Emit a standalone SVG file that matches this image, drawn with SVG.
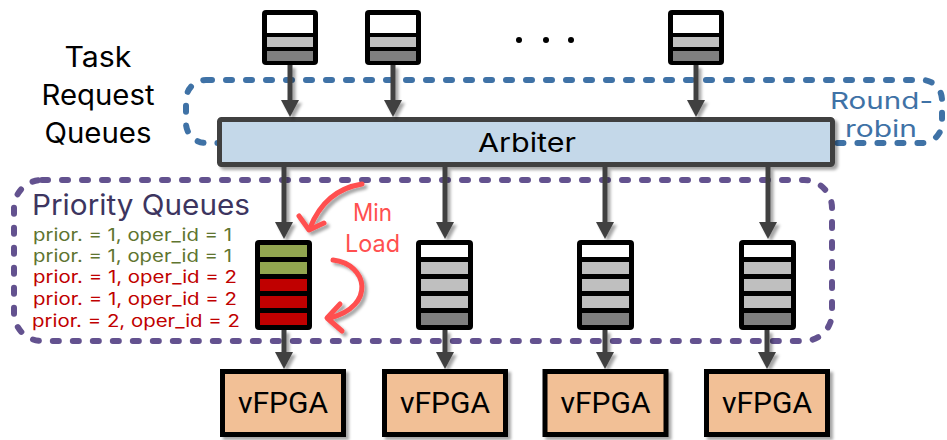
<svg xmlns="http://www.w3.org/2000/svg" width="947" height="440" viewBox="0 0 947 440">
<defs>
<filter id="sh" x="-20%" y="-20%" width="160%" height="160%">
<feDropShadow dx="3" dy="3" stdDeviation="1.5" flood-color="#000" flood-opacity="0.35"/>
</filter>
<style>
.t{font-family:Inter,"DejaVu Sans","Liberation Sans",sans-serif;font-weight:400}
.conn line{stroke:#404040;stroke-width:5}
.conn polygon{fill:#404040}
.qb{fill:#000}
.w{fill:#fff}
.lg{fill:#bfbfbf}
.dg{fill:#7f7f7f}
.gr{fill:#92a650}
.rd{fill:#c00000}
.fp rect{fill:#f2c096;stroke:#000;stroke-width:5}
.fp text{font-family:Roboto,"Liberation Sans",sans-serif;font-size:30px;fill:#000;text-anchor:middle}
.red path{fill:none;stroke:#ff4f4f;stroke-width:5;stroke-linecap:round;stroke-linejoin:round}
.pl{font-size:17px}
</style>
</defs>
<rect width="947" height="440" fill="#fff"/>

<!-- dashed groups -->
<rect id="round-robin-box" x="186" y="80" width="756" height="63" rx="20" fill="none" stroke="#3f72a6" stroke-width="6" stroke-dasharray="6 14" stroke-linecap="round"/>
<rect id="priority-box" x="14" y="180" width="818" height="161" rx="28" fill="none" stroke="#63528f" stroke-width="6" stroke-dasharray="6 14" stroke-linecap="round"/>

<!-- labels -->
<g id="task-label" class="t" font-size="28" text-anchor="middle" fill="#000">
<text x="98" y="67" textLength="67" lengthAdjust="spacingAndGlyphs">Task</text>
<text x="98" y="105" textLength="113" lengthAdjust="spacingAndGlyphs">Request</text>
<text x="98" y="143" textLength="107" lengthAdjust="spacingAndGlyphs">Queues</text>
</g>
<g id="rr-label" class="t" font-size="23" fill="#3f72a6">
<text x="830" y="109" textLength="103" lengthAdjust="spacingAndGlyphs">Round-</text>
<text x="845" y="137" textLength="72" lengthAdjust="spacingAndGlyphs">robin</text>
</g>

<!-- top queues -->
<g id="tq1"><rect class="qb" x="262" y="10" width="56" height="55" rx="4"/><rect class="w" x="267" y="15" width="46" height="18"/><rect class="lg" x="267" y="37" width="46" height="10"/><rect class="dg" x="267" y="51" width="46" height="10"/></g>
<g id="tq2"><rect class="qb" x="365" y="10" width="56" height="55" rx="4"/><rect class="w" x="370" y="15" width="46" height="18"/><rect class="lg" x="370" y="37" width="46" height="10"/><rect class="dg" x="370" y="51" width="46" height="10"/></g>
<g id="tq3"><rect class="qb" x="668" y="10" width="56" height="55" rx="4"/><rect class="w" x="673" y="15" width="46" height="18"/><rect class="lg" x="673" y="37" width="46" height="10"/><rect class="dg" x="673" y="51" width="46" height="10"/></g>
<g id="ellipsis" fill="#000"><circle cx="519" cy="40" r="3"/><circle cx="546" cy="40" r="3"/><circle cx="571" cy="40" r="3"/></g>

<!-- arbiter -->
<g id="arbiter">
<rect x="219.5" y="119.5" width="613" height="45" rx="2" fill="#c4d8e9" stroke="#404040" stroke-width="5" filter="url(#sh)"/>
<text class="t" x="527" y="152" font-size="26" text-anchor="middle" fill="#000" textLength="98" lengthAdjust="spacingAndGlyphs">Arbiter</text>
</g>

<!-- priority queues label -->
<g id="pq-label" class="t">
<text x="32" y="215" font-size="28" fill="#3d3560" textLength="218" lengthAdjust="spacingAndGlyphs">Priority Queues</text>
<text class="pl" x="33" y="241" fill="#5f7530" textLength="199" lengthAdjust="spacingAndGlyphs">prior. = 1, oper_id = 1</text>
<text class="pl" x="33" y="262" fill="#5f7530" textLength="199" lengthAdjust="spacingAndGlyphs">prior. = 1, oper_id = 1</text>
<text class="pl" x="33" y="283" fill="#c00000" textLength="204" lengthAdjust="spacingAndGlyphs">prior. = 1, oper_id = 2</text>
<text class="pl" x="33" y="305" fill="#c00000" textLength="204" lengthAdjust="spacingAndGlyphs">prior. = 1, oper_id = 2</text>
<text class="pl" x="32" y="327" fill="#c00000" textLength="208" lengthAdjust="spacingAndGlyphs">prior. = 2, oper_id = 2</text>
</g>

<!-- priority queues -->
<g id="pq1"><rect class="qb" x="255" y="240" width="57" height="90" rx="4"/><rect class="gr" x="260" y="245" width="47" height="12"/><rect class="gr" x="260" y="262" width="47" height="12"/><rect class="rd" x="260" y="279" width="47" height="12"/><rect class="rd" x="260" y="296" width="47" height="12"/><rect class="rd" x="260" y="313" width="47" height="12"/></g>
<g id="pq2"><rect class="qb" x="416" y="240" width="57" height="90" rx="4"/><rect class="w" x="421" y="245" width="47" height="12"/><rect class="lg" x="421" y="262" width="47" height="12"/><rect class="lg" x="421" y="279" width="47" height="12"/><rect class="lg" x="421" y="296" width="47" height="12"/><rect class="dg" x="421" y="313" width="47" height="12"/></g>
<g id="pq3"><rect class="qb" x="577" y="240" width="57" height="90" rx="4"/><rect class="w" x="582" y="245" width="47" height="12"/><rect class="lg" x="582" y="262" width="47" height="12"/><rect class="lg" x="582" y="279" width="47" height="12"/><rect class="lg" x="582" y="296" width="47" height="12"/><rect class="dg" x="582" y="313" width="47" height="12"/></g>
<g id="pq4"><rect class="qb" x="739" y="240" width="57" height="90" rx="4"/><rect class="w" x="744" y="245" width="47" height="12"/><rect class="lg" x="744" y="262" width="47" height="12"/><rect class="lg" x="744" y="279" width="47" height="12"/><rect class="lg" x="744" y="296" width="47" height="12"/><rect class="dg" x="744" y="313" width="47" height="12"/></g>

<!-- vFPGAs -->
<g id="vfpga1" class="fp"><rect x="222.5" y="371.5" width="121" height="63" filter="url(#sh)"/><text x="283" y="413">vFPGA</text></g>
<g id="vfpga2" class="fp"><rect x="384.5" y="371.5" width="121" height="63" filter="url(#sh)"/><text x="445" y="413">vFPGA</text></g>
<g id="vfpga3" class="fp"><rect x="545" y="371.5" width="121" height="63" filter="url(#sh)"/><text x="605.5" y="413">vFPGA</text></g>
<g id="vfpga4" class="fp"><rect x="706.5" y="371.5" width="121" height="63" filter="url(#sh)"/><text x="767" y="413">vFPGA</text></g>

<!-- connectors -->
<g id="connectors" class="conn" filter="url(#sh)">
<line x1="290" y1="65" x2="290" y2="101"/><polygon points="281,100 299,100 290,117"/>
<line x1="393" y1="65" x2="393" y2="101"/><polygon points="384,100 402,100 393,117"/>
<line x1="696" y1="65" x2="696" y2="101"/><polygon points="687,100 705,100 696,117"/>
<line x1="284" y1="167" x2="284" y2="223"/><polygon points="275,222 293,222 284,239"/>
<line x1="445" y1="167" x2="445" y2="223"/><polygon points="436,222 454,222 445,239"/>
<line x1="605" y1="167" x2="605" y2="223"/><polygon points="596,222 614,222 605,239"/>
<line x1="768" y1="167" x2="768" y2="223"/><polygon points="759,222 777,222 768,239"/>
<line x1="284" y1="330" x2="284" y2="353"/><polygon points="275,352 293,352 284,369"/>
<line x1="445" y1="330" x2="445" y2="353"/><polygon points="436,352 454,352 445,369"/>
<line x1="605" y1="330" x2="605" y2="353"/><polygon points="596,352 614,352 605,369"/>
<line x1="767" y1="330" x2="767" y2="353"/><polygon points="758,352 776,352 767,369"/>
</g>

<!-- min load -->
<g id="min-load" class="red" filter="url(#sh)">
<path d="M362 184 Q325 190 310 228"/>
<path d="M299 216 L309 230 L324 223"/>
<path d="M333 260 C368 264 376 306 330 318"/>
<path d="M340 304 L327 318 L342 331"/>
</g>
<g id="min-load-label" class="t" font-size="24" fill="#ff4f4f">
<text x="353" y="221" textLength="39" lengthAdjust="spacingAndGlyphs">Min</text>
<text x="345" y="252" textLength="55" lengthAdjust="spacingAndGlyphs">Load</text>
</g>
</svg>
